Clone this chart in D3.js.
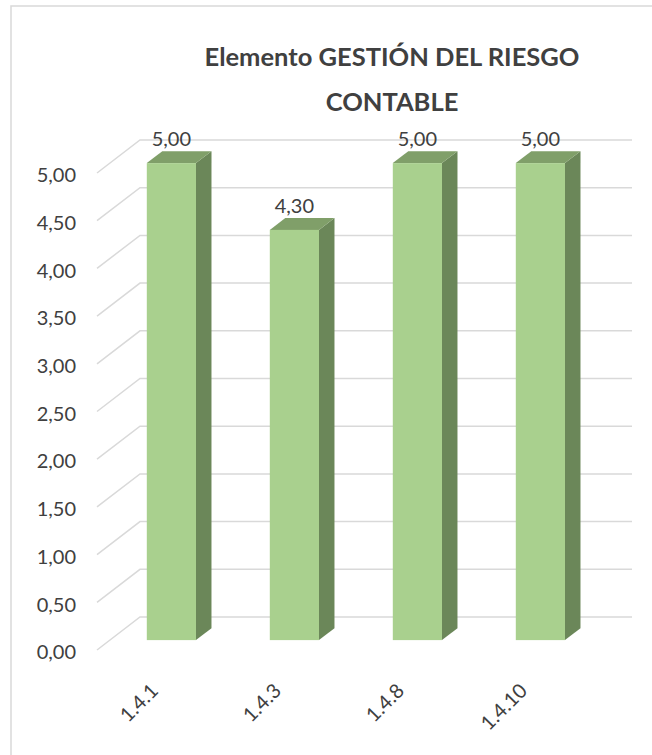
<!DOCTYPE html>
<html>
<head>
<meta charset="utf-8">
<script src="https://cdn.jsdelivr.net/npm/d3@7"></script>
<style>
  body { margin: 0; background: #fff; }
  text { font-family: Lato, "Open Sans", sans-serif; fill: #404040; }
</style>
</head>
<body>
<script>
// chart data
const categories = ["1.4.1", "1.4.3", "1.4.8", "1.4.10"];
const values = [5.00, 4.30, 5.00, 5.00];
const yTicks = [0, 0.5, 1, 1.5, 2, 2.5, 3, 3.5, 4, 4.5, 5];
const titleLines = ["Elemento GESTIÓN DEL RIESGO", "CONTABLE"];

const width = 652, height = 755;

const svg = d3.select("body").append("svg")
    .attr("width", width)
    .attr("height", height);

// chart area border (only top and left are inside the picture)
svg.append("rect")
    .attr("x", 11).attr("y", 6)
    .attr("width", 700).attr("height", 800)
    .attr("fill", "none")
    .attr("stroke", "#d9d9d9")
    .attr("stroke-width", 1.5);

const locale = d3.formatLocale({decimal: ",", thousands: ".", grouping: [3], currency: ["", ""]});
const fmt = locale.format(".2f");

// front plane scales
const x = d3.scaleBand()
    .domain(categories)
    .range([97, 589])
    .paddingInner(0.6)
    .paddingOuter(0.3);

const y = d3.scaleLinear()
    .domain([0, 5])
    .range([650, 173]);

// full depth of the 3d box
const depth = {dx: 43, dy: -33};
const t0 = 0.3, t1 = 0.66; // bar front / back depth fraction

// gridlines: diagonal on left wall + line on back wall
const grid = svg.append("g");
yTicks.forEach(v => {
    grid.append("path")
        .attr("d", `M${x.range()[0]},${y(v)} l${depth.dx},${depth.dy} L${x.range()[1] + depth.dx},${y(v) + depth.dy}`)
        .attr("fill", "none")
        .attr("stroke", "#d9d9d9")
        .attr("stroke-width", 1.5);
});

// y axis labels
svg.append("g").selectAll("text")
    .data(yTicks)
    .enter().append("text")
    .attr("x", 76)
    .attr("y", d => y(d) + 2)
    .attr("dy", "0.36em")
    .attr("text-anchor", "end")
    .attr("font-size", 20)
    .text(d => fmt(d));

// bars
const bars = svg.append("g").selectAll("g")
    .data(values)
    .enter().append("g");

const fx = (d, i) => x(categories[i]) + depth.dx * t0;
const bw = x.bandwidth();
const sdx = depth.dx * (t1 - t0), sdy = depth.dy * (t1 - t0);

// side
bars.append("path")
    .attr("d", (d, i) => {
        const x0 = fx(d, i) + bw, yb = y(0) + depth.dy * t0, yt = y(d) + depth.dy * t0;
        return `M${x0},${yb} L${x0},${yt} l${sdx},${sdy} L${x0 + sdx},${yb + sdy} Z`;
    })
    .attr("fill", "#6b8759");

// top
bars.append("path")
    .attr("d", (d, i) => {
        const x0 = fx(d, i), yt = y(d) + depth.dy * t0;
        return `M${x0},${yt} l${bw},0 l${sdx},${sdy} l${-bw},0 Z`;
    })
    .attr("fill", "#809f69");

// front
bars.append("rect")
    .attr("x", (d, i) => fx(d, i))
    .attr("y", d => y(d) + depth.dy * t0)
    .attr("width", bw)
    .attr("height", d => y(0) - y(d))
    .attr("fill", "#a9d08e");

// value labels
bars.append("text")
    .attr("x", (d, i) => fx(d, i) + bw / 2)
    .attr("y", d => y(d) + depth.dy * t1 - 5)
    .attr("text-anchor", "middle")
    .attr("font-size", 20)
    .text(d => fmt(d));

// category labels
svg.append("g").selectAll("text")
    .data(categories)
    .enter().append("text")
    .attr("transform", d => `translate(${x(d) + bw / 2 + 1},692) rotate(-45)`)
    .attr("text-anchor", "end")
    .attr("font-size", 20)
    .text(d => d);

// title
svg.append("g").selectAll("text")
    .data(titleLines)
    .enter().append("text")
    .attr("x", 392)
    .attr("y", (d, i) => 66 + i * 45)
    .attr("text-anchor", "middle")
    .attr("font-size", 25.5)
    .attr("font-weight", "bold")
    .text(d => d);
</script>
</body>
</html>
